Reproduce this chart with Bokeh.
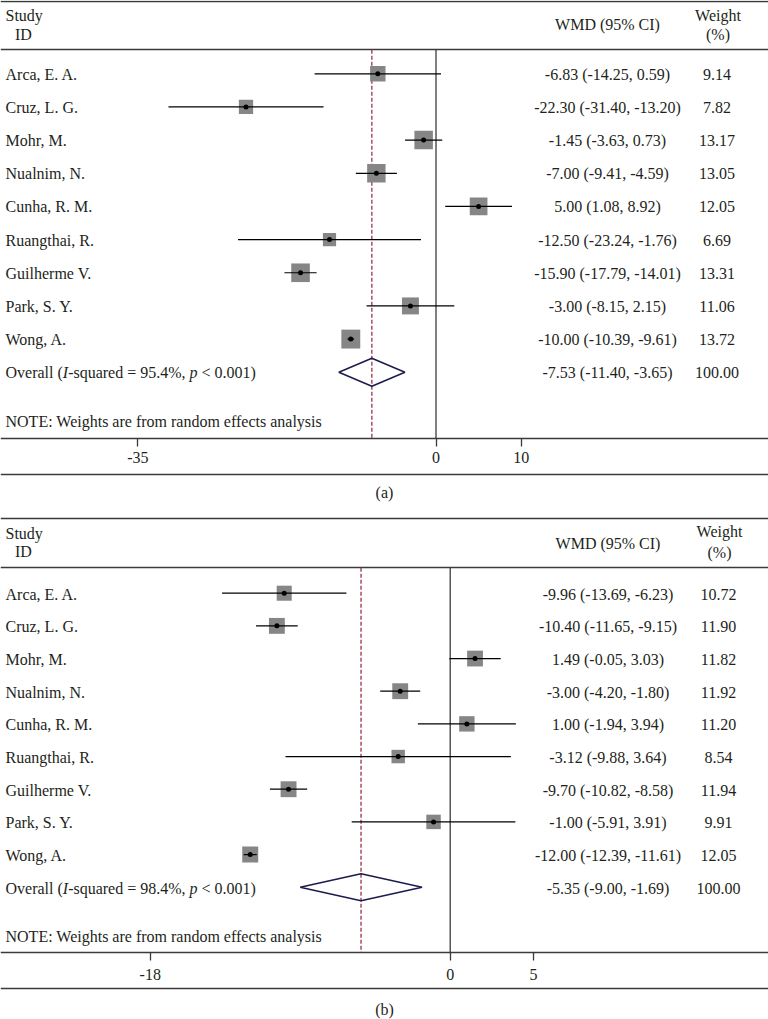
from bokeh.plotting import figure
from bokeh.models import Range1d, LinearAxis, FixedTicker
from bokeh.layouts import column
from bokeh.embed import file_html
from bokeh.resources import INLINE
from bokeh.core.properties import value
import numpy as np

# ---------------- data ----------------
studies = ["Arca, E. A.", "Cruz, L. G.", "Mohr, M.", "Nualnim, N.", "Cunha, R. M.",
           "Ruangthai, R.", "Guilherme V.", "Park, S. Y.", "Wong, A."]

a_wmd = [-6.83, -22.30, -1.45, -7.00, 5.00, -12.50, -15.90, -3.00, -10.00]
a_lo = [-14.25, -31.40, -3.63, -9.41, 1.08, -23.24, -17.79, -8.15, -10.39]
a_hi = [0.59, -13.20, 0.73, -4.59, 8.92, -1.76, -14.01, 2.15, -9.61]
a_weight = [9.14, 7.82, 13.17, 13.05, 12.05, 6.69, 13.31, 11.06, 13.72]
a_overall = [-7.53, -11.40, -3.65]
a_i2 = "95.4%"
a_ticks = [-35, 0, 10]

b_wmd = [-9.96, -10.40, 1.49, -3.00, 1.00, -3.12, -9.70, -1.00, -12.00]
b_lo = [-13.69, -11.65, -0.05, -4.20, -1.94, -9.88, -10.82, -5.91, -12.39]
b_hi = [-6.23, -9.15, 3.03, -1.80, 3.94, 3.64, -8.58, 3.91, -11.61]
b_weight = [10.72, 11.90, 11.82, 11.92, 11.20, 8.54, 11.94, 9.91, 12.05]
b_overall = [-5.35, -9.00, -1.69]
b_i2 = "98.4%"
b_ticks = [-18, 0, 5]

# ---------------- style / layout ----------------
FONT = "Liberation Serif"
FS = 16
TXT = "#231f20"
RULE = "#3a3a3a"
TEXT_FIX = -5.5   # px correction of text baselines

# approximate glyph advance widths (em) for Liberation Serif
W_REG = {" ": .25, "(": .333, ")": .333, "-": .333, "=": .564, "<": .564, "%": .833,
         ",": .25, ".": .25, "O": .722, "v": .5, "e": .444, "r": .333, "a": .444,
         "l": .278, "s": .389, "q": .5, "u": .5, "d": .5}
W_IT = {"I": .333, "p": .5}


def text_width(s, table):
    return sum(table.get(c, .5) for c in s) * FS


LAYOUT_A = dict(sx=8.52, zero=435.5, row0=73.3, pitch=33.16, top=0, height=503,
                top_rule=1.0, head_rule=49.3, axis=438.3, bottom_rule=474.0,
                note=426.7, study=20.7, idl=39.0, wmdh=29.5, wh=20.0, pct=39.0,
                row_off=6.0, wmd_px=607.0, w_px=716.5, box_k=5.1, dia=14.0,
                tick_standoff=5, label_standoff=18)
LAYOUT_B = dict(sx=16.665, zero=449.7, row0=592.7, pitch=32.67, top=503, height=516,
                top_rule=518.3, head_rule=567.3, axis=951.7, bottom_rule=988.3,
                note=941.0, study=538.3, idl=556.7, wmdh=548.0, wh=536.7, pct=557.0,
                row_off=6.3, wmd_px=607.5, w_px=718.0, box_k=4.6, dia=13.5,
                tick_standoff=9, label_standoff=17)


def make_panel(wmd, lo, hi, weight, overall, i2, ticks, tag, L):
    def vx(px):
        return (px - L["zero"]) / L["sx"]

    def vy(py):
        return (py - L["row0"]) / L["pitch"]

    def ty_px(py):
        return vy(py + TEXT_FIX)

    h = L["height"]
    p = figure(width=768, height=h, output_backend="svg", toolbar_location=None,
               x_range=Range1d(vx(0), vx(768)),
               y_range=Range1d(vy(L["top"] + h), vy(L["top"])),
               x_axis_type=None, y_axis_type=None, min_border=0,
               outline_line_color=None, background_fill_color="white",
               border_fill_color="white")

    n = len(studies)
    rows = np.arange(n)
    over_row = n
    y_txt_off = (L["row_off"] + TEXT_FIX) / L["pitch"]

    # rules
    p.hspan(y=[vy(L["top_rule"]), vy(L["head_rule"]), vy(L["bottom_rule"])],
            line_color=RULE, line_width=1.4)

    # zero line and overall dashed line
    y_a, y_b = vy(L["head_rule"]), vy(L["axis"])
    p.segment(x0=[0], y0=[y_a], x1=[0], y1=[y_b], line_color="#3c3c3c", line_width=1.3)
    p.segment(x0=[overall[0]], y0=[y_a], x1=[overall[0]], y1=[y_b],
              line_color="#9c4655", line_width=1.4, line_dash="4 2")

    # boxes, CIs, points
    sizes = [L["box_k"] * np.sqrt(w) for w in weight]
    p.scatter(x=wmd, y=rows, marker="square", size=sizes, fill_color="#868686",
              line_color=None)
    p.segment(x0=lo, y0=rows, x1=hi, y1=rows, line_color="black", line_width=1.2)
    p.scatter(x=wmd, y=rows, marker="circle", size=5, fill_color="black", line_color=None)

    # overall diamond
    dh = L["dia"] / L["pitch"]
    p.patch(x=[overall[1], overall[0], overall[2], overall[0]],
            y=[over_row, over_row - dh, over_row, over_row + dh],
            fill_color=None, line_color="#1b1b4d", line_width=1.5)

    tkw = dict(text_font=value(FONT), text_font_size=value(f"{FS}px"), text_color=TXT,
               text_baseline="alphabetic")

    # headers
    p.text(x=[vx(5)], y=[ty_px(L["study"])], text=["Study"], text_align="left", **tkw)
    p.text(x=[vx(14.5)], y=[ty_px(L["idl"])], text=["ID"], text_align="left", **tkw)
    p.text(x=[vx(L["wmd_px"])], y=[ty_px(L["wmdh"])], text=["WMD (95% CI)"], text_align="center", **tkw)
    p.text(x=[vx(L["w_px"] + 1)], y=[ty_px(L["wh"])], text=["Weight"], text_align="center", **tkw)
    p.text(x=[vx(L["w_px"] + 1)], y=[ty_px(L["pct"])], text=["(%)"], text_align="center", **tkw)

    # study rows
    ty = rows + y_txt_off
    p.text(x=[vx(5)] * n, y=ty, text=studies, text_align="left", **tkw)
    ci_txt = [f"{e:.2f} ({l:.2f}, {u:.2f})" for e, l, u in zip(wmd, lo, hi)]
    w_txt = [f"{w:.2f}" for w in weight]
    p.text(x=[vx(L["wmd_px"])] * n, y=ty, text=ci_txt, text_align="center", **tkw)
    p.text(x=[vx(L["w_px"])] * n, y=ty, text=w_txt, text_align="center", **tkw)

    # overall row (mixed roman / italic pieces laid out side by side)
    oy = over_row + y_txt_off
    pieces = ["Overall (", "I", "-squared = " + i2 + ", ", "p", " < 0.001)"]
    italic = [False, True, False, True, False]
    offs, shown, cur = [], [], 0.0
    for s, it in zip(pieces, italic):
        lead = len(s) - len(s.lstrip(" "))
        offs.append(cur + lead * W_REG[" "] * FS)
        shown.append(s.strip(" "))
        cur += text_width(s, W_IT if it else W_REG)
    reg = [i for i in range(5) if not italic[i]]
    itl = [i for i in range(5) if italic[i]]
    p.text(x=[vx(5)] * len(reg), y=[oy] * len(reg), text=[shown[i] for i in reg],
           x_offset=[offs[i] for i in reg], text_align="left", **tkw)
    p.text(x=[vx(5)] * len(itl), y=[oy] * len(itl), text=[shown[i] for i in itl],
           x_offset=[offs[i] for i in itl], text_align="left", text_font_style="italic", **tkw)
    ov_ci = f"{overall[0]:.2f} ({overall[1]:.2f}, {overall[2]:.2f})"
    p.text(x=[vx(L["wmd_px"])], y=[oy], text=[ov_ci], text_align="center", **tkw)
    p.text(x=[vx(L["w_px"])], y=[oy], text=["100.00"], text_align="center", **tkw)

    # note
    p.text(x=[vx(5)], y=[ty_px(L["note"])], text=["NOTE: Weights are from random effects analysis"],
           text_align="left", **tkw)

    # x axis (fixed inside the frame)
    ax = LinearAxis(fixed_location=vy(L["axis"]), ticker=FixedTicker(ticks=ticks, minor_ticks=[]))
    ax.major_label_overrides = {t: str(t) for t in ticks}
    ax.axis_line_color = RULE
    ax.axis_line_width = 1.4
    ax.major_tick_line_color = RULE
    ax.major_tick_line_width = 1.3
    ax.major_tick_out = 8
    ax.major_tick_in = 0
    ax.minor_tick_out = 0
    ax.minor_tick_in = 0
    ax.major_label_text_font = FONT
    ax.major_label_text_font_size = f"{FS}px"
    ax.major_label_text_color = TXT
    ax.major_label_standoff = L["tick_standoff"]
    ax.axis_label = tag
    ax.axis_label_text_font = FONT
    ax.axis_label_text_font_size = f"{FS}px"
    ax.axis_label_text_font_style = "normal"
    ax.axis_label_text_color = TXT
    ax.axis_label_standoff = L["label_standoff"]
    p.add_layout(ax, "below")
    return p


pa = make_panel(a_wmd, a_lo, a_hi, a_weight, a_overall, a_i2, a_ticks, "(a)", LAYOUT_A)
pb = make_panel(b_wmd, b_lo, b_hi, b_weight, b_overall, b_i2, b_ticks, "(b)", LAYOUT_B)

layout = column(pa, pb, spacing=0)
open("out.html", "w").write(file_html(layout, INLINE))
